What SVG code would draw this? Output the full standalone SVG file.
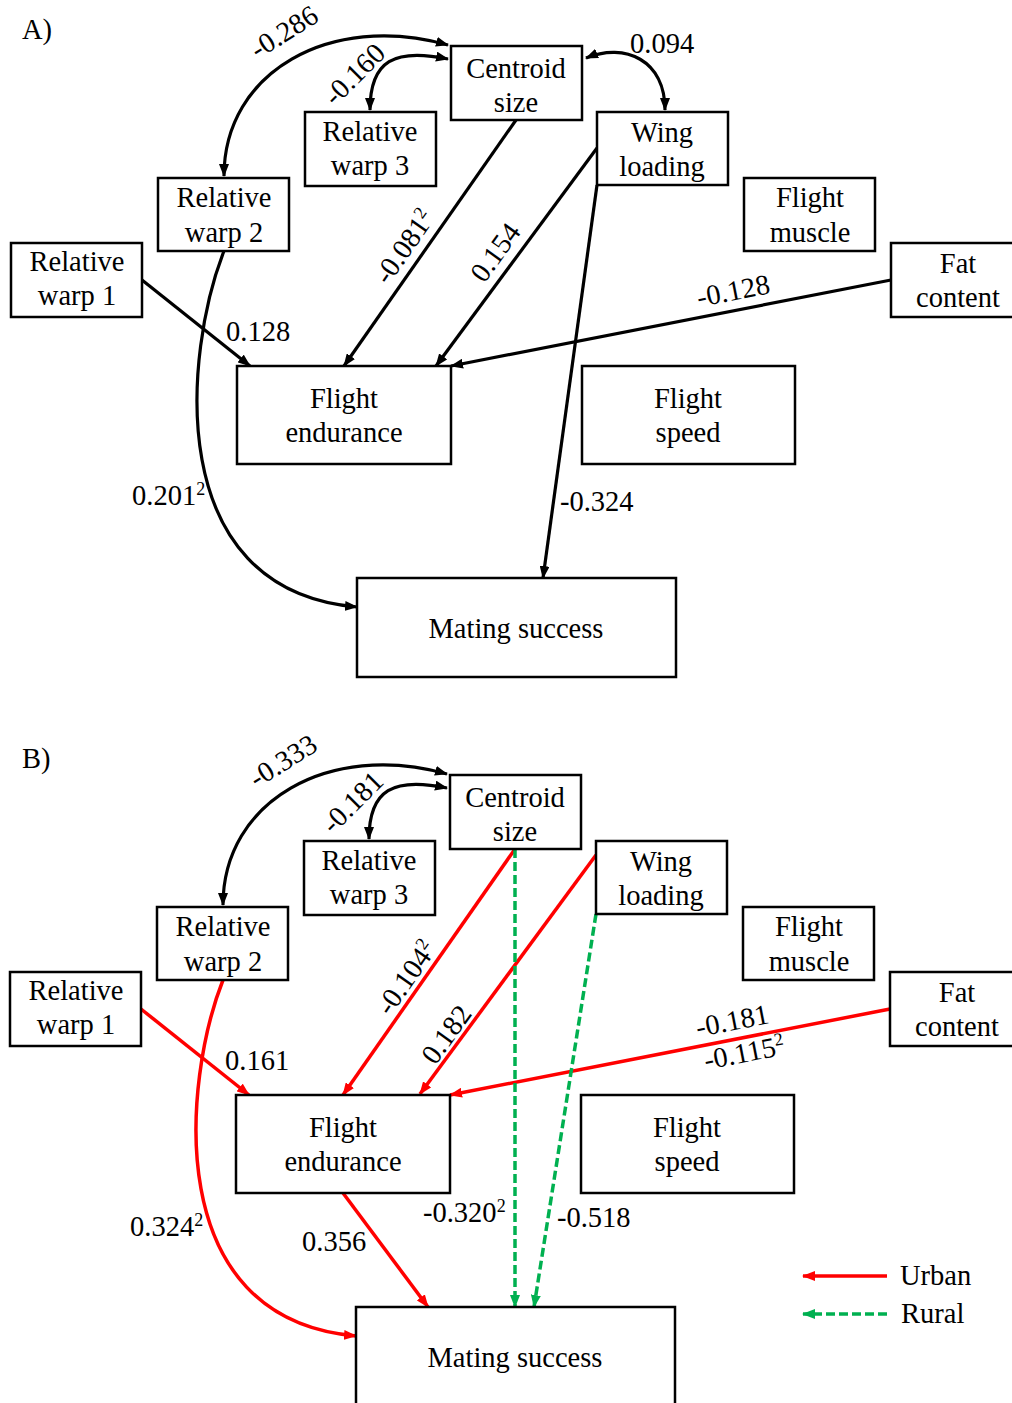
<svg xmlns="http://www.w3.org/2000/svg" width="1012" height="1403" viewBox="0 0 1012 1403">
<defs>
<style>
text{font-family:"Liberation Serif","Times New Roman",serif;font-size:28.5px;fill:#000}
.n text{text-anchor:middle}
.n rect{fill:#fff;stroke:#000;stroke-width:2.5}
.m{text-anchor:middle}
.sup{font-size:18px}
.k{fill:none;stroke:#000;stroke-width:3.2}
.r{fill:none;stroke:#ff0000;stroke-width:3.5}
.g{fill:none;stroke:#00b050;stroke-width:3.5;stroke-dasharray:9 4}
</style>
<marker id="ak" viewBox="0 0 13 10" refX="12" refY="5" markerWidth="13" markerHeight="10" markerUnits="userSpaceOnUse" orient="auto-start-reverse"><path d="M0,0L13,5L0,10z" fill="#000"/></marker>
<marker id="ar" viewBox="0 0 13 10" refX="12" refY="5" markerWidth="13" markerHeight="10" markerUnits="userSpaceOnUse" orient="auto-start-reverse"><path d="M0,0L13,5L0,10z" fill="#ff0000"/></marker>
<marker id="ag" viewBox="0 0 13 10" refX="12" refY="5" markerWidth="13" markerHeight="10" markerUnits="userSpaceOnUse" orient="auto-start-reverse"><path d="M0,0L13,5L0,10z" fill="#00b050"/></marker>
</defs>
<rect width="1012" height="1403" fill="#fff"/>
<text x="22" y="39">A)</text>
<text x="22" y="768">B)</text>

<g id="connectors">
<!-- Panel A -->
<path class="k" d="M224,176 C224,72 330,12 448,45" marker-start="url(#ak)" marker-end="url(#ak)"/>
<path class="k" d="M370,110 C370,60 395,48 448,59" marker-start="url(#ak)" marker-end="url(#ak)"/>
<path class="k" d="M586,58 C625,42 665,60 665,110" marker-start="url(#ak)" marker-end="url(#ak)"/>
<path class="k" d="M516,120 L344,366" marker-end="url(#ak)"/>
<path class="k" d="M597,148 L436,366" marker-end="url(#ak)"/>
<path class="k" d="M597,185 L543,578" marker-end="url(#ak)"/>
<path class="k" d="M142,280 L250,366" marker-end="url(#ak)"/>
<path class="k" d="M891,280 L451,366" marker-end="url(#ak)"/>
<path class="k" d="M224,251 C185,350 160,590 357,607" marker-end="url(#ak)"/>
<!-- Panel B -->
<path class="k" d="M223,905 C223,801 329,741 447,774" marker-start="url(#ak)" marker-end="url(#ak)"/>
<path class="k" d="M369,839 C369,789 394,777 447,788" marker-start="url(#ak)" marker-end="url(#ak)"/>
<path class="r" d="M515,849 L343,1095" marker-end="url(#ar)"/>
<path class="r" d="M596,855 L420,1094" marker-end="url(#ar)"/>
<path class="r" d="M890,1009 L450,1095" marker-end="url(#ar)"/>
<path class="r" d="M141,1009 L249,1095" marker-end="url(#ar)"/>
<path class="r" d="M223,980 C184,1079 159,1319 356,1336" marker-end="url(#ar)"/>
<path class="r" d="M343,1193 L428,1307" marker-end="url(#ar)"/>
<path class="g" d="M515,849 L515,1307" marker-end="url(#ag)"/>
<path class="g" d="M596,914 L534,1307" marker-end="url(#ag)"/>
<!-- Legend -->
<path class="r" d="M887,1276 L803,1276" marker-end="url(#ar)"/>
<path class="g" d="M887,1314 L803,1314" marker-end="url(#ag)"/>
</g>

<g id="labels">
<text class="m" transform="translate(289,40) rotate(-32)">-0.286</text>
<text class="m" transform="translate(361,81) rotate(-45)">-0.160</text>
<text x="630" y="53">0.094</text>
<text class="m" transform="translate(412,252) rotate(-55)">-0.081<tspan class="sup" dy="-10">2</tspan></text>
<text class="m" transform="translate(503,258) rotate(-54)">0.154</text>
<text x="226" y="341">0.128</text>
<text class="m" transform="translate(735,300) rotate(-11)">-0.128</text>
<text x="132" y="505">0.201<tspan class="sup" dy="-10">2</tspan></text>
<text x="560" y="511">-0.324</text>

<text class="m" transform="translate(288,769) rotate(-32)">-0.333</text>
<text class="m" transform="translate(359,809) rotate(-45)">-0.181</text>
<text class="m" transform="translate(414,983) rotate(-55)">-0.104<tspan class="sup" dy="-10">2</tspan></text>
<text class="m" transform="translate(454,1040) rotate(-54)">0.182</text>
<text x="225" y="1070">0.161</text>
<text class="m" transform="translate(734,1030) rotate(-11)">-0.181</text>
<text class="m" transform="translate(746,1062) rotate(-11)">-0.115<tspan class="sup" dy="-10">2</tspan></text>
<text x="130" y="1236">0.324<tspan class="sup" dy="-10">2</tspan></text>
<text x="302" y="1251">0.356</text>
<text x="423" y="1222">-0.320<tspan class="sup" dy="-10">2</tspan></text>
<text x="557" y="1227">-0.518</text>
<text x="900" y="1285">Urban</text>
<text x="901" y="1323">Rural</text>
</g>

<!-- Panel A nodes -->
<g id="a-centroid" class="n"><rect x="451" y="46" width="131" height="74"/><text x="516" y="78">Centroid</text><text x="516" y="112">size</text></g>
<g id="a-rw3" class="n"><rect x="305" y="112" width="131" height="74"/><text x="370" y="141">Relative</text><text x="370" y="175">warp 3</text></g>
<g id="a-wing" class="n"><rect x="597" y="112" width="131" height="73"/><text x="662" y="142">Wing</text><text x="662" y="176">loading</text></g>
<g id="a-rw2" class="n"><rect x="158" y="178" width="131" height="73"/><text x="224" y="207">Relative</text><text x="224" y="242">warp 2</text></g>
<g id="a-muscle" class="n"><rect x="744" y="178" width="131" height="73"/><text x="810" y="207">Flight</text><text x="810" y="242">muscle</text></g>
<g id="a-rw1" class="n"><rect x="11" y="243" width="131" height="74"/><text x="77" y="271">Relative</text><text x="77" y="305">warp 1</text></g>
<g id="a-fat" class="n"><rect x="891" y="243" width="132" height="74"/><text x="958" y="273">Fat</text><text x="958" y="307">content</text></g>
<g id="a-endurance" class="n"><rect x="237" y="366" width="214" height="98"/><text x="344" y="408">Flight</text><text x="344" y="442">endurance</text></g>
<g id="a-speed" class="n"><rect x="582" y="366" width="213" height="98"/><text x="688" y="408">Flight</text><text x="688" y="442">speed</text></g>
<g id="a-mating" class="n"><rect x="357" y="578" width="319" height="99"/><text x="516" y="638">Mating success</text></g>

<!-- Panel B nodes -->
<g id="b-centroid" class="n"><rect x="450" y="775" width="131" height="74"/><text x="515" y="807">Centroid</text><text x="515" y="841">size</text></g>
<g id="b-rw3" class="n"><rect x="304" y="841" width="131" height="74"/><text x="369" y="870">Relative</text><text x="369" y="904">warp 3</text></g>
<g id="b-wing" class="n"><rect x="596" y="841" width="131" height="73"/><text x="661" y="871">Wing</text><text x="661" y="905">loading</text></g>
<g id="b-rw2" class="n"><rect x="157" y="907" width="131" height="73"/><text x="223" y="936">Relative</text><text x="223" y="971">warp 2</text></g>
<g id="b-muscle" class="n"><rect x="743" y="907" width="131" height="73"/><text x="809" y="936">Flight</text><text x="809" y="971">muscle</text></g>
<g id="b-rw1" class="n"><rect x="10" y="972" width="131" height="74"/><text x="76" y="1000">Relative</text><text x="76" y="1034">warp 1</text></g>
<g id="b-fat" class="n"><rect x="890" y="972" width="132" height="74"/><text x="957" y="1002">Fat</text><text x="957" y="1036">content</text></g>
<g id="b-endurance" class="n"><rect x="236" y="1095" width="214" height="98"/><text x="343" y="1137">Flight</text><text x="343" y="1171">endurance</text></g>
<g id="b-speed" class="n"><rect x="581" y="1095" width="213" height="98"/><text x="687" y="1137">Flight</text><text x="687" y="1171">speed</text></g>
<g id="b-mating" class="n"><rect x="356" y="1307" width="319" height="99"/><text x="515" y="1367">Mating success</text></g>
</svg>
